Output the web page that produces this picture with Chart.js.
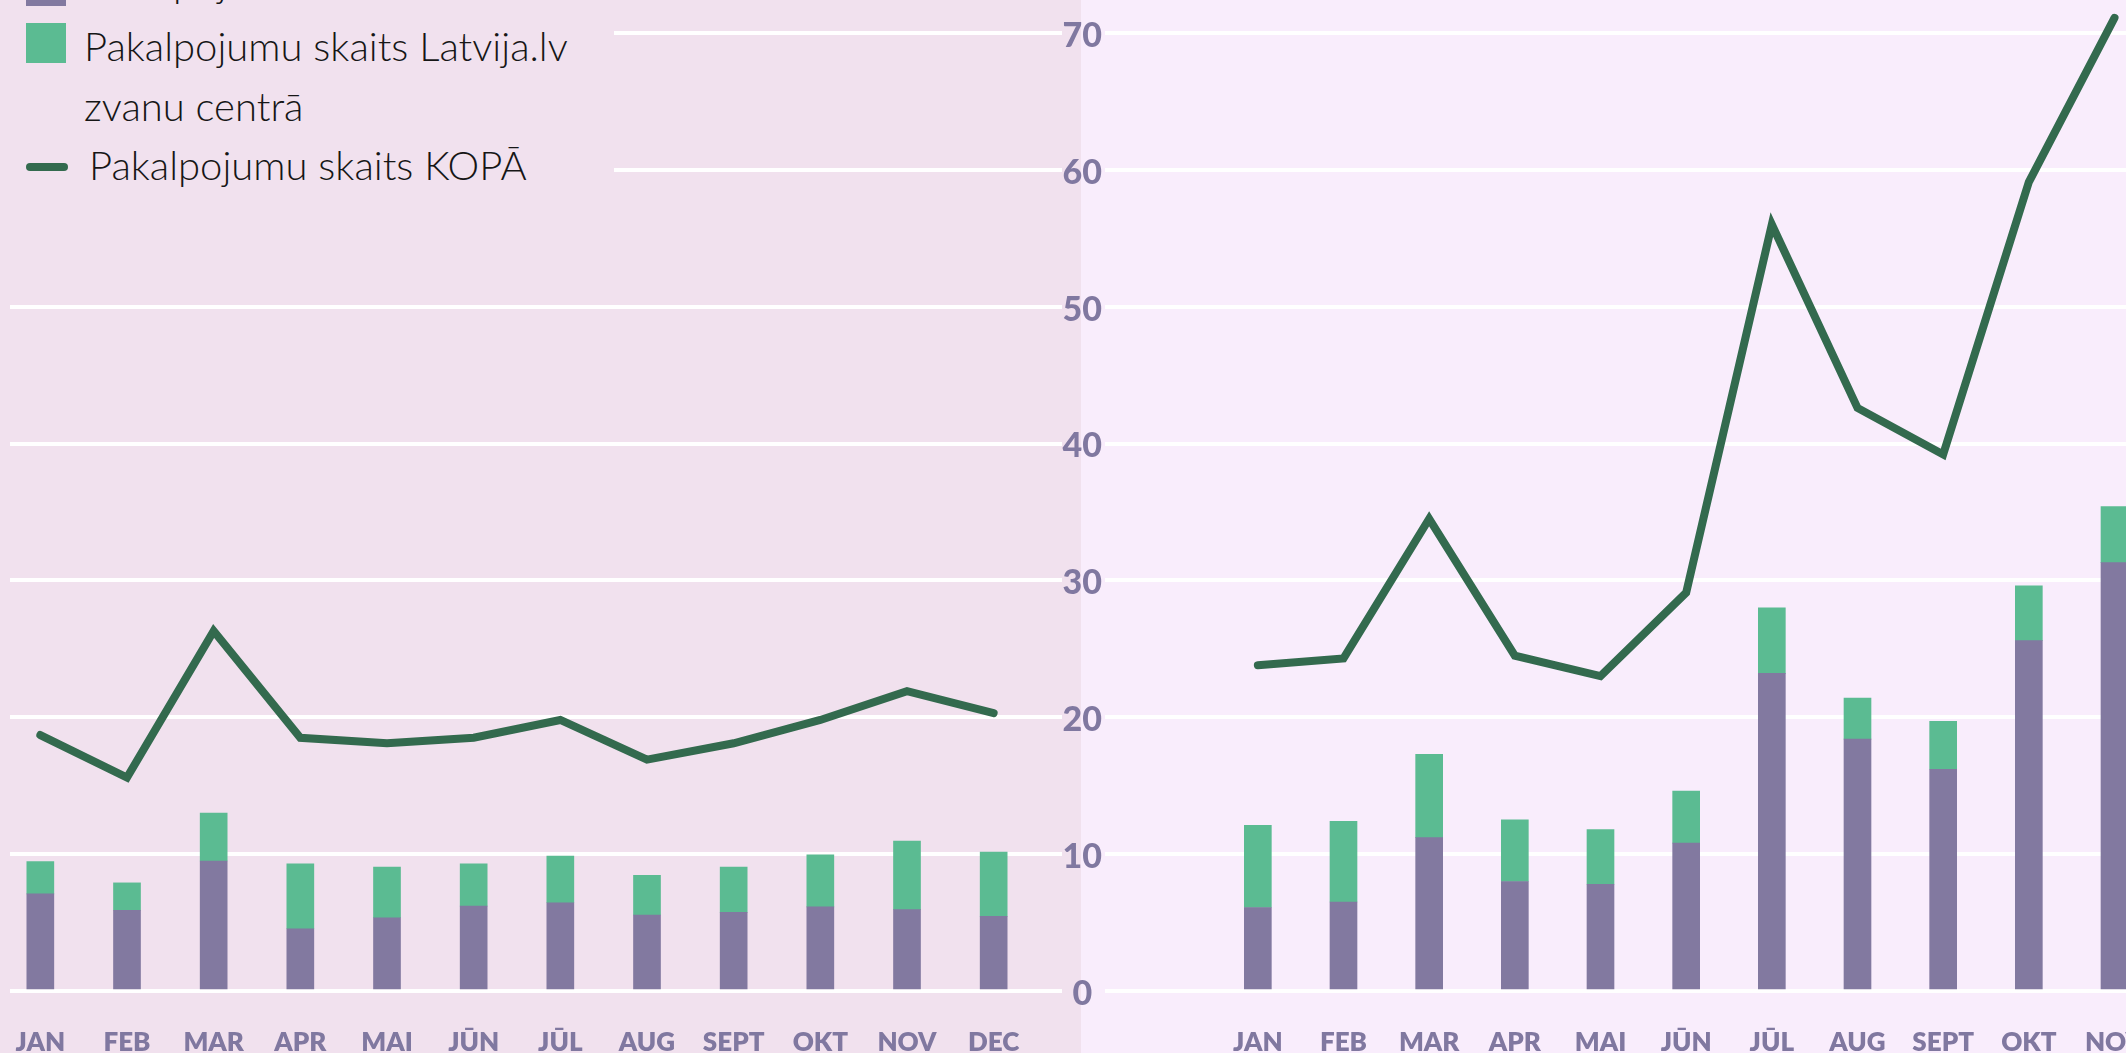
<!DOCTYPE html>
<html>
<head>
<meta charset="utf-8">
<script src="https://cdn.jsdelivr.net/npm/chart.js@4.4.1/dist/chart.umd.min.js"></script>
<style>
html, body { margin: 0; padding: 0; width: 2126px; height: 1053px; overflow: hidden; position: relative; }
#leftPanel { position: absolute; left: 0; top: 0; width: 1081px; height: 1053px; background: #f1e1ee; }
#rightPanel { position: absolute; left: 1081px; top: 0; width: 1045px; height: 1053px; background: #f9edfc; }
canvas { position: absolute; }
#cLeft { left: -3px; top: -104px; }
#cRight { left: 1060px; top: -104px; }
#legend { position: absolute; left: 0; top: 0; width: 614px; height: 200px; background: #f1e1ee; overflow: hidden;
  font-family: Lato, "Open Sans", sans-serif; font-weight: 300; font-size: 40px; color: #161616; }
#edge { position: absolute; left: 0; top: 200px; width: 10px; height: 853px; background: #f1e1ee; }
.mk { position: absolute; left: 26px; }
.tx { position: absolute; line-height: 60px; white-space: nowrap; }
</style>
</head>
<body>
<div id="leftPanel"></div>
<div id="rightPanel"></div>
<canvas id="cLeft" width="1065" height="1165"></canvas>
<div id="edge"></div>
<div id="legend"></div>
<canvas id="cRight" width="1183" height="1165"></canvas>
<script>
// ---- data ----
const months = ['JAN', 'FEB', 'MAR', 'APR', 'MAI', 'JŪN', 'JŪL', 'AUG', 'SEPT', 'OKT', 'NOV', 'DEC'];
const yTicks = [0, 10, 20, 30, 40, 50, 60, 70, 80];

const seriesNames = ['Pakalpojumu skaits klātienē', 'Pakalpojumu skaits Latvija.lv\nzvanu centrā', 'Pakalpojumu skaits KOPĀ'];

// left chart
const leftInPerson = [7.1, 5.9, 9.5, 4.55, 5.35, 6.2, 6.45, 5.55, 5.75, 6.15, 5.95, 5.45];
const leftCallCentre = [2.35, 2.0, 3.5, 4.75, 3.7, 3.1, 3.4, 2.9, 3.3, 3.8, 5.0, 4.7];
const leftTotal = [18.7, 15.6, 26.3, 18.5, 18.1, 18.5, 19.8, 16.9, 18.1, 19.8, 21.9, 20.3];

// right chart (DEC not visible)
const rightInPerson = [6.1, 6.5, 11.2, 8.0, 7.8, 10.8, 23.2, 18.4, 16.2, 25.6, 31.3, null];
const rightCallCentre = [6.0, 5.9, 6.1, 4.5, 4.0, 3.8, 4.8, 3.0, 3.5, 4.0, 4.1, null];
const rightTotal = [23.8, 24.3, 34.5, 24.5, 23.0, 29.1, 56.0, 42.6, 39.2, 59.1, 71.1, null];

// ---- styles ----
const PURPLE = '#8279a0';
const GREEN = '#5bbb92';
const LINE = '#336a4e';
const LABEL = '#8078a0';

function datasets(a, b, c) {
  return [
    { type: 'line', label: seriesNames[2], data: c, borderColor: LINE, backgroundColor: LINE,
      borderWidth: 8, pointRadius: 0, pointHoverRadius: 0, tension: 0, stack: 'total',
      borderCapStyle: 'round', borderJoinStyle: 'miter', order: 0, spanGaps: false },
    { type: 'bar', label: seriesNames[0], data: a, backgroundColor: PURPLE, stack: 'bars',
      barThickness: 27, borderWidth: 0, order: 1 },
    { type: 'bar', label: seriesNames[1], data: b, backgroundColor: GREEN, stack: 'bars',
      barThickness: 27, borderWidth: 0, order: 1 }
  ];
}

function xScale() {
  return {
    type: 'category', stacked: true, offset: true,
    grid: { display: false, drawTicks: false }, border: { display: false },
    ticks: { color: LABEL, font: { family: 'Lato', weight: '800', size: 26 }, padding: 36,
      autoSkip: false, maxRotation: 0, minRotation: 0 },
    afterFit: (s) => { s.height = 70; s.paddingLeft = 0; s.paddingRight = 0; }
  };
}

function yScale(side, showLabels, tickLen, width) {
  return {
    type: 'linear', position: side, stacked: true, min: yTicks[0], max: yTicks[yTicks.length - 1],
    afterBuildTicks: (s) => { s.ticks = yTicks.map(v => ({ value: v })); },
    grid: { color: '#ffffff', lineWidth: 4, drawTicks: true, tickLength: tickLen, tickColor: '#ffffff', tickWidth: 4 },
    border: { display: false },
    ticks: { display: showLabels, color: LABEL, font: { family: 'Lato', weight: '900', size: 34 },
      padding: 3, crossAlign: 'center', labelOffset: 3 },
    afterFit: (s) => { s.width = width; s.paddingTop = 0; s.paddingBottom = 0; }
  };
}

function makeChart(id, a, b, c, ySide, showLabels, tickLen, yWidth) {
  return new Chart(document.getElementById(id), {
    data: { labels: months, datasets: datasets(a, b, c) },
    options: {
      responsive: false, animation: false, devicePixelRatio: 1,
      layout: { padding: 0 },
      plugins: { legend: { display: false }, tooltip: { enabled: false } },
      scales: { x: xScale(), y: yScale(ySide, showLabels, tickLen, yWidth) }
    }
  });
}

makeChart('cLeft', leftInPerson, leftCallCentre, leftTotal, 'right', false, 25, 25);
makeChart('cRight', rightInPerson, rightCallCentre, rightTotal, 'left', true, 110, 155);

// ---- HTML legend ----
const legend = document.getElementById('legend');
const legendRows = [
  { kind: 'box', color: PURPLE, mkTop: -34, txTop: -48, txLeft: 84 },
  { kind: 'box', color: GREEN, mkTop: 23, txTop: 16, txLeft: 84 },
  { kind: 'line', color: LINE, mkTop: 163, txTop: 135, txLeft: 89 }
];
legendRows.forEach((r, i) => {
  const mk = document.createElement('div');
  mk.className = 'mk';
  mk.style.background = r.color;
  mk.style.top = r.mkTop + 'px';
  if (r.kind === 'box') { mk.style.width = '40px'; mk.style.height = '40px'; }
  else { mk.style.width = '42px'; mk.style.height = '8px'; mk.style.borderRadius = '4px'; }
  legend.appendChild(mk);
  const tx = document.createElement('div');
  tx.className = 'tx';
  tx.style.top = r.txTop + 'px';
  tx.style.left = r.txLeft + 'px';
  seriesNames[i].split('\n').forEach((line, j) => {
    if (j) tx.appendChild(document.createElement('br'));
    tx.appendChild(document.createTextNode(line));
  });
  legend.appendChild(tx);
});
</script>
</body>
</html>
